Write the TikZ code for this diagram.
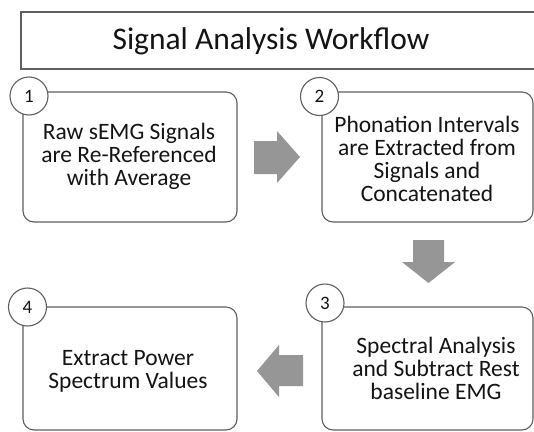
\documentclass[tikz,border=0pt]{standalone}
\usepackage{fontspec}
\setmainfont{Carlito}
\begin{document}
\begin{tikzpicture}[x=1pt,y=-1pt,
  stepbox/.style={draw=boxgray, line width=1.1pt, rounded corners=11pt, fill=white},
  steptext/.style={font=\fontsize{23.5}{23}\selectfont, align=center, text=black!92},
  numcirc/.style={draw=boxgray, line width=1.1pt, circle, fill=white, minimum size=38pt, inner sep=0pt, font=\fontsize{19}{20}\selectfont, text=black!92},
  blockarrow/.style={fill=arrowgray, draw=none}]
\definecolor{boxgray}{RGB}{95,95,95}
\definecolor{arrowgray}{RGB}{150,150,150}
\useasboundingbox (0,0) rectangle (534,431);
\clip (0,0) rectangle (534,431);
\fill[white] (0,0) rectangle (534,431);
% title
\draw[draw=boxgray, line width=1.1pt] (21,12) rectangle (545,69);
\node[font=\fontsize{31.5}{34}\selectfont, text=black!92] (title) at (271,41) {Signal Analysis Workflow};
% boxes
\draw[stepbox] (23,92) rectangle (237,222);
\draw[stepbox] (322,92) rectangle (533,222);
\draw[stepbox] (322,307) rectangle (533,430);
\draw[stepbox] (23,307) rectangle (237,430);
% texts
\node[steptext] (t1) at (129,156) {Raw sEMG Signals\\are Re-Referenced\\with Average};
\node[steptext] (t2) at (427,159) {Phonation Intervals\\are Extracted from\\Signals and\\Concatenated};
\node[steptext] (t3) at (436,368) {Spectral Analysis\\and Subtract Rest\\baseline EMG};
\node[steptext] (t4) at (128,371) {Extract Power\\Spectrum Values};
% circles
\node[numcirc] (c1) at (29,96) {1};
\node[numcirc] (c2) at (319.5,96.5) {2};
\node[numcirc] (c3) at (325,303) {3};
\node[numcirc] (c4) at (27.5,307) {4};
% block arrows
\fill[blockarrow] (254,141) -- (277,141) -- (277,131) -- (300,157) -- (277,183) -- (277,174) -- (254,174) -- cycle;
\fill[blockarrow] (413,240) -- (444,240) -- (444,262) -- (455,262) -- (428.5,283) -- (402,262) -- (413,262) -- cycle;
\fill[blockarrow] (303,355) -- (279,355) -- (279,345) -- (257,371) -- (279,397) -- (279,386) -- (303,386) -- cycle;
\end{tikzpicture}
\end{document}
